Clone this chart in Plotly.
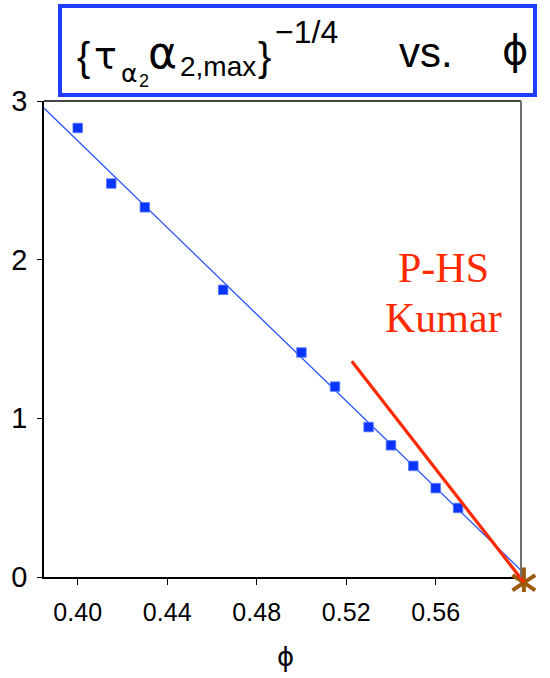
import plotly.graph_objects as go

# ---- data ----
phi = [0.400, 0.415, 0.430, 0.465, 0.500, 0.515, 0.530, 0.540, 0.550, 0.560, 0.570]
tau_alpha = [2.83, 2.48, 2.33, 1.81, 1.415, 1.20, 0.945, 0.83, 0.70, 0.56, 0.435]

fit_phi = [0.385, 0.598]
fit_val = [2.954, 0.044]

kumar_phi = [0.5225, 0.5995]
kumar_val = [1.36, -0.035]

star_phi = [0.5994]
star_val = [-0.036]

x_ticks = [0.40, 0.44, 0.48, 0.52, 0.56]
y_ticks = [0, 1, 2, 3]
x_range = [0.38494, 0.59812]
y_range = [0, 3]

# ---- layout geometry (pixels) ----
W, H = 550, 678
L, R, T, B = 44, 14, 101, 86          # paper margins
PLOT_R, PLOT_B = 521, 577              # main plot right / bottom edge in px
PW, PH = W - L - R, H - T - B          # paper area size

dx = (x_range[1] - x_range[0]) / (PLOT_R - L)
dy = (y_range[1] - y_range[0]) / (PLOT_B - T)
x2_range = [x_range[0], x_range[0] + PW * dx]
y2_range = [y_range[1] - PH * dy, y_range[1]]


def px(x):
    return (x - L) / PW


def py(y):
    return (H - B - y) / PH


fig = go.Figure()

fig.add_trace(go.Scatter(x=fit_phi, y=fit_val, mode="lines",
                         line=dict(color="#1f4cff", width=1.2),
                         hoverinfo="skip", showlegend=False))
fig.add_trace(go.Scatter(x=phi, y=tau_alpha, mode="markers",
                         marker=dict(symbol="square", size=9.5, color="#0a34ff",
                                     line=dict(width=0.8, color="#5577ff")),
                         showlegend=False))
# star and red line on an (invisible) slightly larger subplot with identical scale
STAR = "#9c5a0c"
for sym in ["y-up-open", "y-down-open"]:
    fig.add_trace(go.Scatter(x=star_phi, y=star_val, mode="markers",
                             xaxis="x2", yaxis="y2",
                             marker=dict(symbol=sym, size=19, color=STAR,
                                         line=dict(width=4, color=STAR)),
                             showlegend=False))
fig.add_trace(go.Scatter(x=kumar_phi, y=kumar_val, mode="lines",
                         xaxis="x2", yaxis="y2",
                         line=dict(color="#ff2a00", width=3.2),
                         showlegend=False))

ann = []
SANS = "Liberation Sans, Arial, sans-serif"
DJ = "DejaVu Sans, sans-serif"
SERIF = "Liberation Serif, Times New Roman, serif"
METRICS = {SANS: (0.905, 0.212), DJ: (0.928, 0.236), SERIF: (0.891, 0.216)}


def txt(s, xpos, base, size, family=SANS, color="black", anchor="left"):
    asc, desc = METRICS[family]
    cy = base - (asc - desc) / 2 * size
    ann.append(dict(text=s, x=px(xpos), y=py(cy), xref="paper", yref="paper",
                    xanchor=anchor, yanchor="middle", showarrow=False,
                    font=dict(family=family, size=size, color=color)))


# title pieces
txt("{", 75, 71, 40)
txt("τ", 92, 69, 38, family=DJ)
txt("α", 119, 82, 25, family=DJ)
txt("2", 137, 87, 18)
txt("α", 146, 68, 44, family=DJ)
txt("2,max", 178, 76, 28)
txt("}", 256, 71, 40)
txt("−1/4", 273, 43, 32)
txt("vs.", 397, 67, 42)
txt("ϕ", 500, 64, 40, family=DJ)

# annotation in plot
txt("P-HS", 443, 282, 42, family=SERIF, color="#ff2a00", anchor="center")
txt("Kumar", 443, 332, 42, family=SERIF, color="#ff2a00", anchor="center")

# x axis title
txt("ϕ", 285, 666, 26, family=DJ, anchor="center")

shapes = [
    dict(type="rect", xref="paper", yref="paper", x0=px(60), x1=px(535),
         y0=py(6), y1=py(95), line=dict(color="#1f3dff", width=4)),
    dict(type="line", xref="x domain", yref="y domain", x0=0, x1=1, y0=1, y1=1,
         line=dict(color="#444444", width=2)),
    dict(type="line", xref="x domain", yref="y domain", x0=1, x1=1, y0=0, y1=1,
         line=dict(color="#707070", width=2)),
]

fig.update_layout(
    width=W, height=H,
    margin=dict(l=L, r=R, t=T, b=B, pad=0),
    paper_bgcolor="white", plot_bgcolor="rgba(0,0,0,0)",
    showlegend=False,
    annotations=ann, shapes=shapes,
    xaxis=dict(domain=[0, (PLOT_R - L) / PW], anchor="y",
               range=x_range, tickvals=x_ticks,
               ticktext=[f"{v:.2f}" for v in x_ticks],
               showgrid=False, zeroline=False, showline=True,
               linecolor="black", linewidth=1.5,
               ticks="outside", ticklen=6, tickwidth=1.2, tickcolor="black",
               ticklabelstandoff=6,
               tickfont=dict(family="Liberation Sans Narrow, Arial Narrow, Liberation Sans, Arial",
                             size=25, color="black")),
    yaxis=dict(domain=[(H - B - PLOT_B) / PH, 1], anchor="x",
               range=y_range, tickvals=y_ticks,
               showgrid=False, zeroline=False, showline=True,
               linecolor="black", linewidth=1.5,
               ticks="outside", ticklen=5, tickwidth=1.2, tickcolor="black",
               ticklabelstandoff=4,
               tickfont=dict(family=SANS, size=29, color="black")),
    xaxis2=dict(domain=[0, 1], anchor="y2", range=x2_range, visible=False,
                showgrid=False, zeroline=False),
    yaxis2=dict(domain=[0, 1], anchor="x2", range=y2_range, visible=False,
                showgrid=False, zeroline=False),
)

fig.write_html("out.html")
